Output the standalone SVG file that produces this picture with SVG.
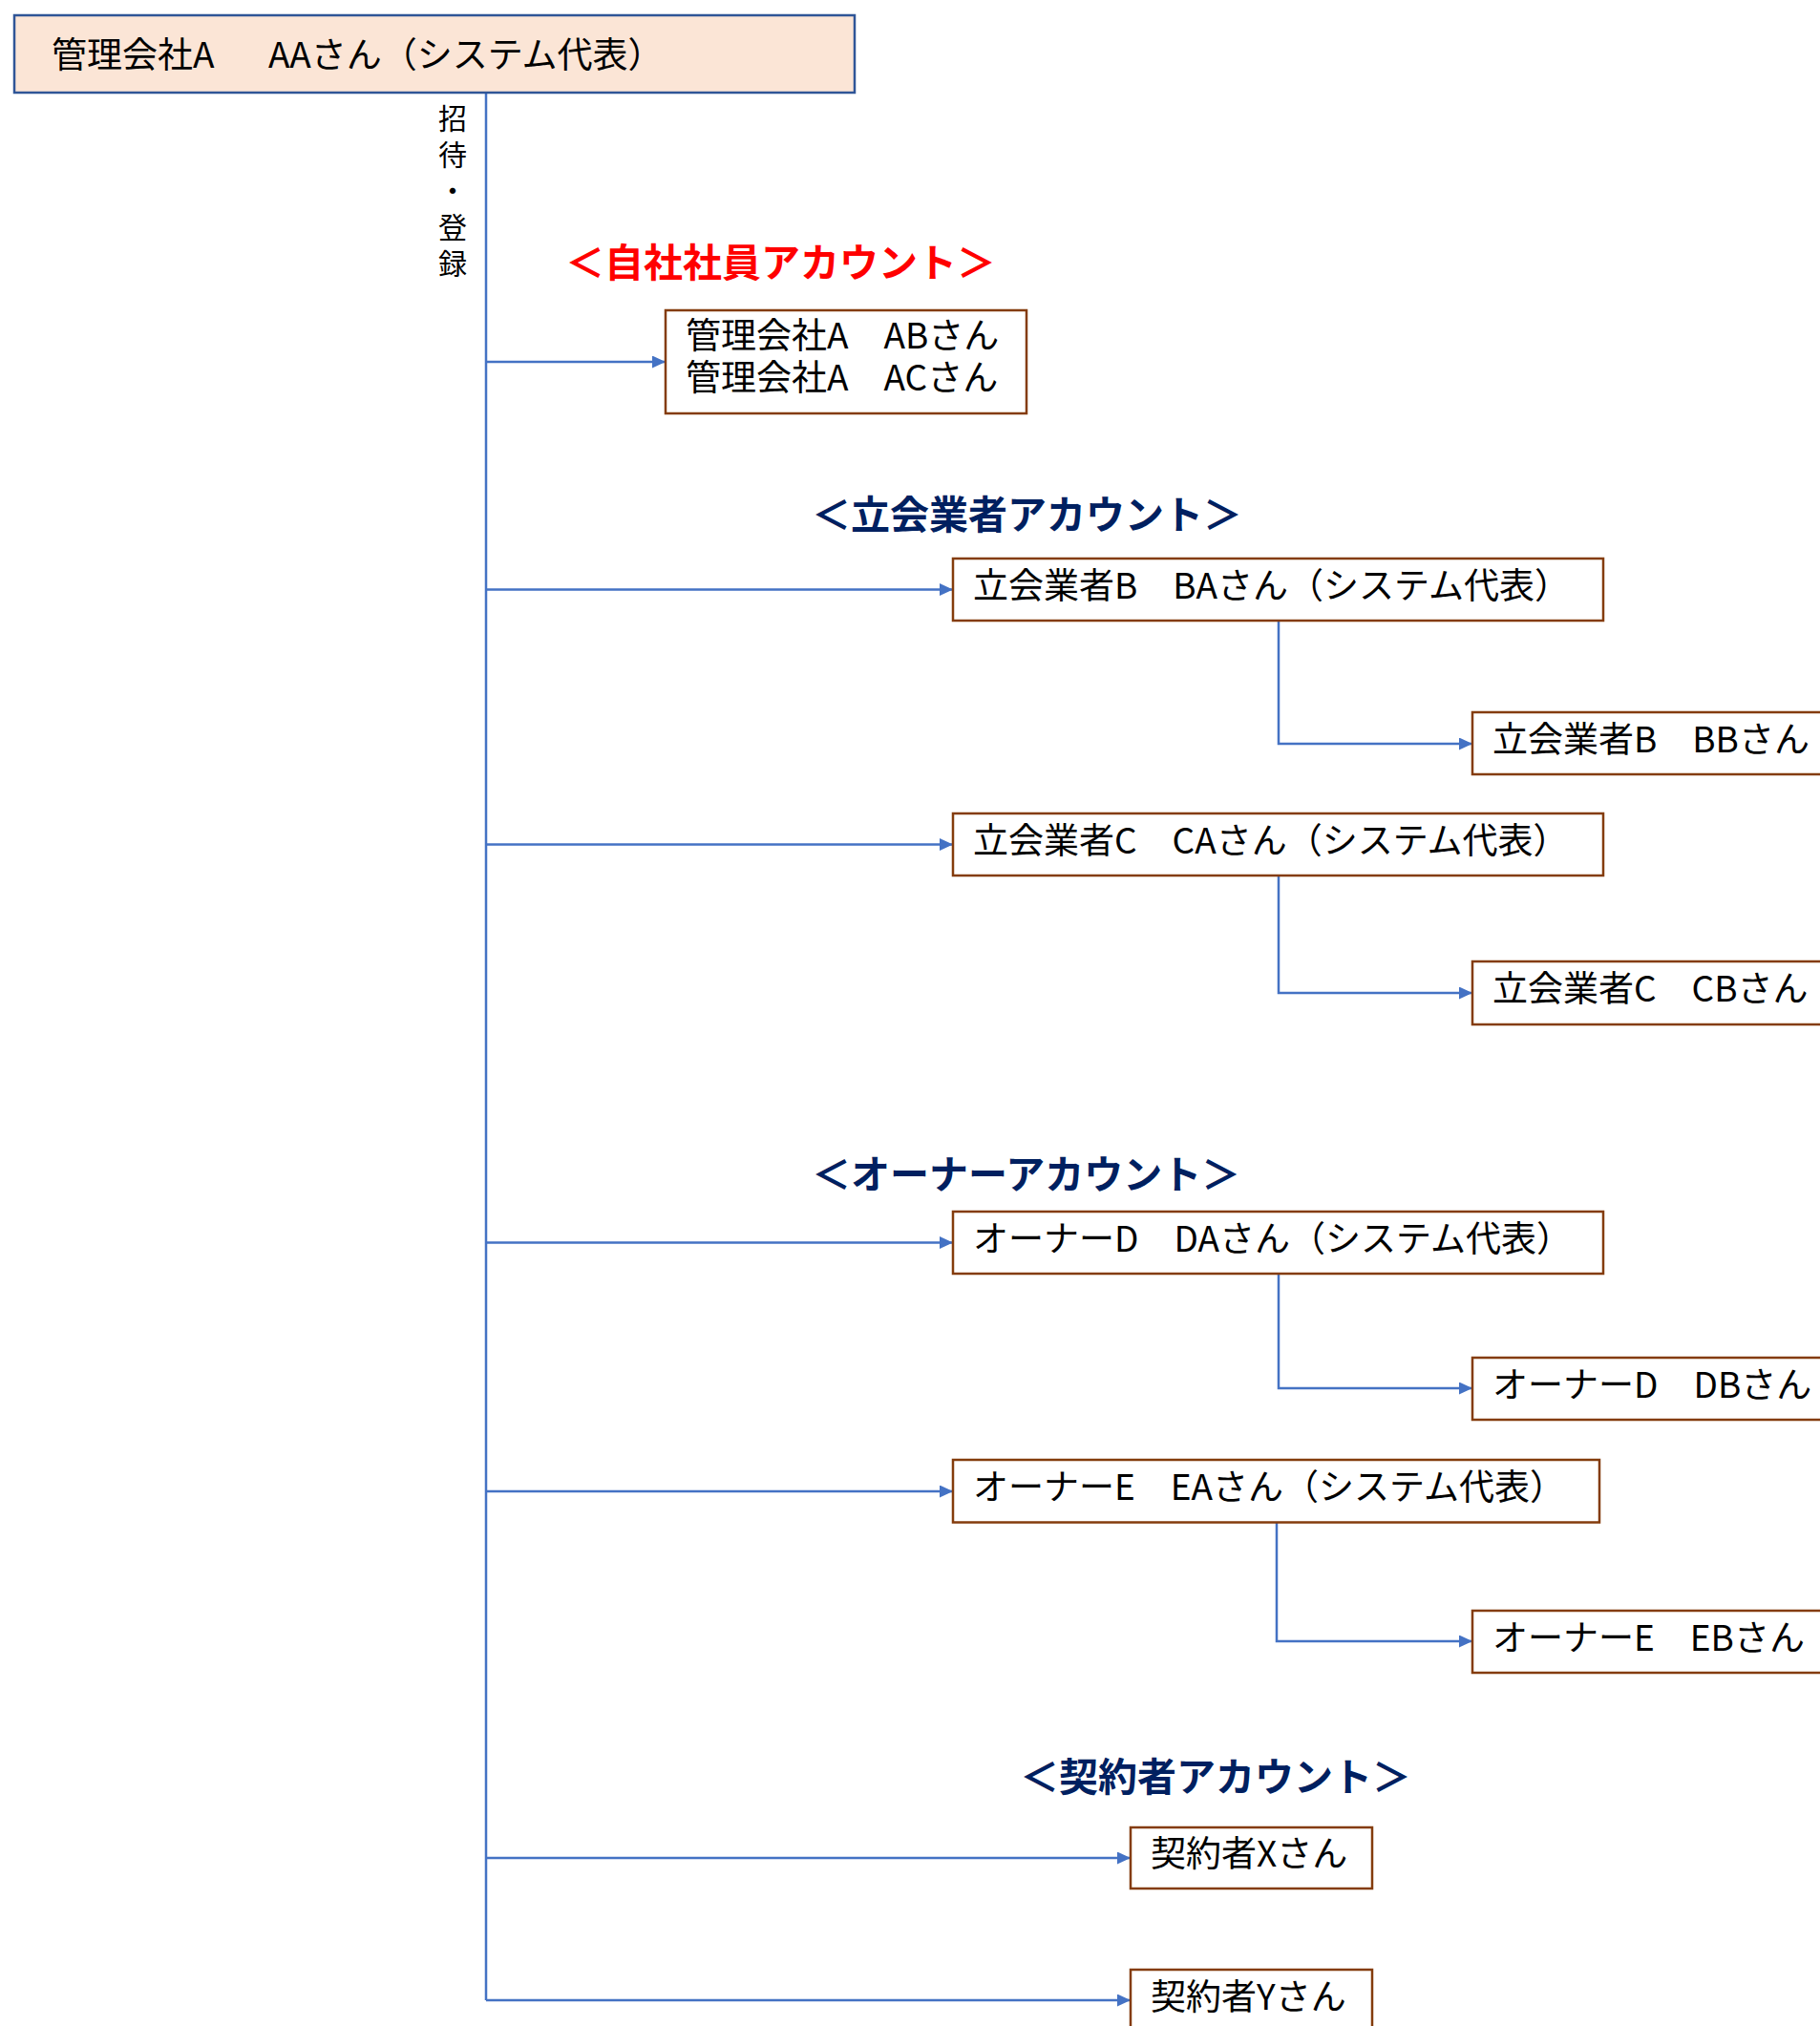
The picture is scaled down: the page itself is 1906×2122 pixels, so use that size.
<svg xmlns="http://www.w3.org/2000/svg" width="1906" height="2122" viewBox="0 0 1906 2122">
<defs>
<style>
.t{font-family:"Noto Sans CJK JP","Noto Sans",sans-serif;font-size:37px;fill:#000}
.h{font-family:"Noto Sans CJK JP","Noto Sans",sans-serif;font-size:41px;font-weight:bold}
.red{fill:#FF0000}
.navy{fill:#002060}
.v{font-family:"Noto Sans CJK JP","Noto Sans",sans-serif;font-size:30px;fill:#000;writing-mode:vertical-rl;letter-spacing:8px}
.box{fill:#FFFFFF;stroke:#843C0C;stroke-width:2.5}
.top{fill:#FBE5D6;stroke:#2F5597;stroke-width:2.5}
.c{fill:none;stroke:#4472C4;stroke-width:2.5}
</style>
<marker id="arr" markerUnits="userSpaceOnUse" markerWidth="14" markerHeight="13" refX="14" refY="6.5" orient="auto">
<path d="M0,0 L14,6.5 L0,13 Z" fill="#4472C4"/>
</marker>
</defs>
<rect width="1906" height="2122" fill="#FFFFFF"/>

<g id="connectors">
<path class="c" d="M509,97 V2095"/>
<path class="c" d="M509,379 H697" marker-end="url(#arr)"/>
<path class="c" d="M509,617.5 H998" marker-end="url(#arr)"/>
<path class="c" d="M509,884.5 H998" marker-end="url(#arr)"/>
<path class="c" d="M509,1301.5 H998" marker-end="url(#arr)"/>
<path class="c" d="M509,1562 H998" marker-end="url(#arr)"/>
<path class="c" d="M509,1946 H1184" marker-end="url(#arr)"/>
<path class="c" d="M509,2095 H1184" marker-end="url(#arr)"/>
<path class="c" d="M1339,650 V779 H1542" marker-end="url(#arr)"/>
<path class="c" d="M1339,917 V1040 H1542" marker-end="url(#arr)"/>
<path class="c" d="M1339,1334 V1454 H1542" marker-end="url(#arr)"/>
<path class="c" d="M1337,1594.5 V1719 H1542" marker-end="url(#arr)"/>
</g>

<g id="label-invite">
<text class="v" x="474" y="108.5">招待・登録</text>
</g>

<g id="heading-own">
<text class="h red" x="592" y="290">＜自社社員アカウント＞</text>
</g>
<g id="heading-vendor">
<text class="h navy" x="850" y="554">＜立会業者アカウント＞</text>
</g>
<g id="heading-owner">
<text class="h navy" x="850" y="1245">＜オーナーアカウント＞</text>
</g>
<g id="heading-contract">
<text class="h navy" x="1068" y="1876">＜契約者アカウント＞</text>
</g>

<g id="node-AA">
<rect class="top" x="15" y="16" width="880" height="81"/>
<text class="t" x="54" y="71">管理会社A　<tspan x="281">AAさん（システム代表）</tspan></text>
</g>

<g id="node-AB">
<rect class="box" x="697" y="325" width="378" height="108"/>
<text class="t"><tspan x="718" y="364.5">管理会社A　ABさん</tspan><tspan x="718" y="409">管理会社A　ACさん</tspan></text>
</g>

<g id="node-BA">
<rect class="box" x="998" y="585" width="681" height="65"/>
<text class="t" x="1019" y="627">立会業者B　BAさん（システム代表）</text>
</g>
<g id="node-BB">
<rect class="box" x="1542" y="746" width="400" height="65"/>
<text class="t" x="1563" y="788">立会業者B　BBさん</text>
</g>

<g id="node-CA">
<rect class="box" x="998" y="852" width="681" height="65"/>
<text class="t" x="1019" y="894">立会業者C　CAさん（システム代表）</text>
</g>
<g id="node-CB">
<rect class="box" x="1542" y="1007" width="400" height="66"/>
<text class="t" x="1563" y="1049">立会業者C　CBさん</text>
</g>

<g id="node-DA">
<rect class="box" x="998" y="1269" width="681" height="65"/>
<text class="t" x="1019" y="1311">オーナーD　DAさん（システム代表）</text>
</g>
<g id="node-DB">
<rect class="box" x="1542" y="1422" width="400" height="65"/>
<text class="t" x="1563" y="1464">オーナーD　DBさん</text>
</g>

<g id="node-EA">
<rect class="box" x="998" y="1529" width="677" height="65.5"/>
<text class="t" x="1019" y="1571">オーナーE　EAさん（システム代表）</text>
</g>
<g id="node-EB">
<rect class="box" x="1542" y="1687" width="400" height="65"/>
<text class="t" x="1563" y="1729">オーナーE　EBさん</text>
</g>

<g id="node-X">
<rect class="box" x="1184" y="1914" width="253" height="64"/>
<text class="t" x="1205" y="1954.5">契約者Xさん</text>
</g>
<g id="node-Y">
<rect class="box" x="1184" y="2063" width="253" height="80"/>
<text class="t" x="1205" y="2104.5">契約者Yさん</text>
</g>
</svg>
